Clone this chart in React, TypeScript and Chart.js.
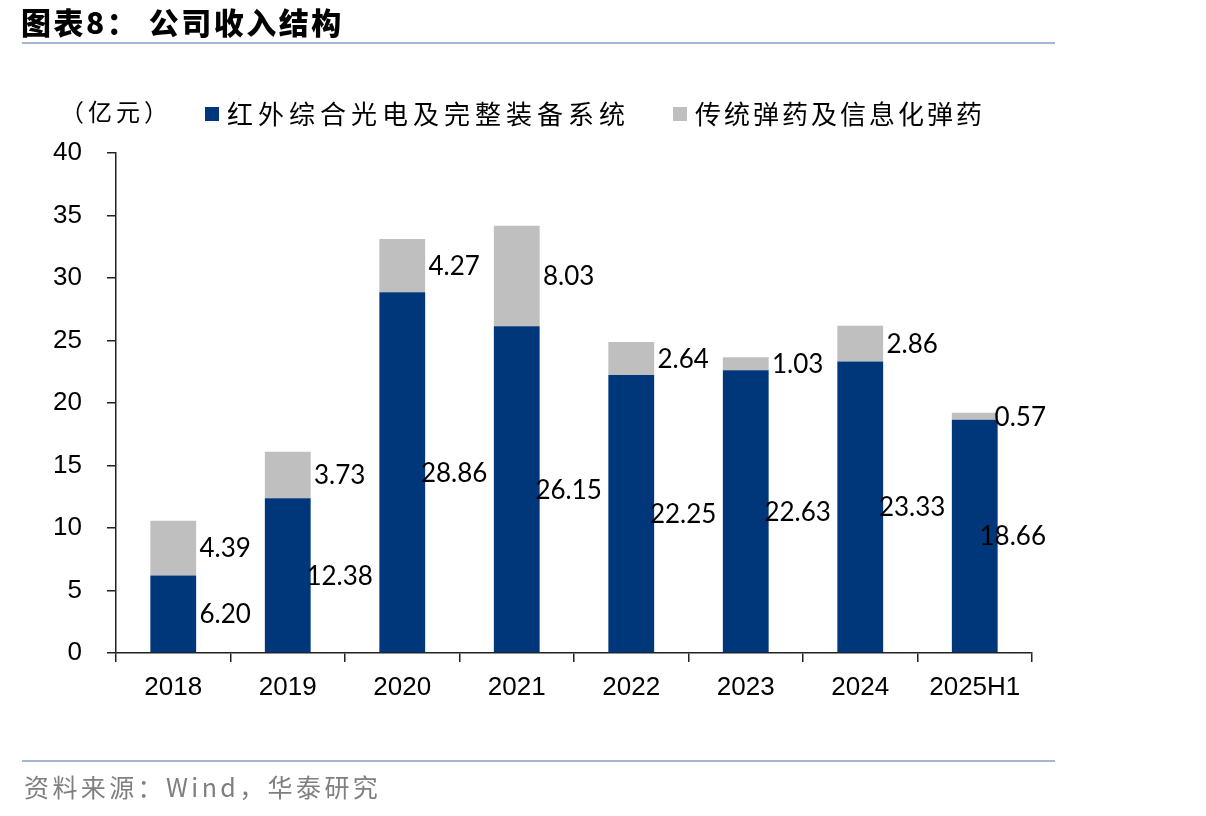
import React, { useEffect, useRef } from "react";
import { Chart, registerables } from "chart.js";

Chart.register(...registerables);

const categories = ["2018", "2019", "2020", "2021", "2022", "2023", "2024", "2025H1"];
const opticalSystems = [6.2, 12.38, 28.86, 26.15, 22.25, 22.63, 23.33, 18.66];
const ammunition = [4.39, 3.73, 4.27, 8.03, 2.64, 1.03, 2.86, 0.57];
const yTicks = [0, 5, 10, 15, 20, 25, 30, 35, 40];

const seriesNames = ["红外综合光电及完整装备系统", "传统弹药及信息化弹药"];
const seriesColors = ["#00377A", "#BFBFBF"];

const W = 1206;
const H = 816;
const AREA = { left: 116, right: 1032, top: 153, bottom: 653 };

const valueLabels = {
  id: "valueLabels",
  afterDatasetsDraw(chart: any) {
    const ctx = chart.ctx;
    ctx.save();
    ctx.font = "26px Lato, 'Liberation Sans', sans-serif";
    ctx.fillStyle = "#000";
    ctx.textAlign = "center";
    ctx.textBaseline = "middle";
    chart.data.datasets.forEach((ds: any, di: number) => {
      const meta = chart.getDatasetMeta(di);
      meta.data.forEach((bar: any, i: number) => {
        const text = Number(ds.data[i]).toFixed(2);
        const tw = ctx.measureText(text).width;
        const right = bar.x + bar.width / 2;
        const cx = Math.min(right + 29, 1046 - tw / 2);
        const cy = (bar.y + bar.base) / 2 + 1;
        ctx.fillText(text, cx, cy);
      });
    });
    ctx.restore();
  },
};

function RevenueChart() {
  const ref = useRef<HTMLCanvasElement | null>(null);
  useEffect(() => {
    if (!ref.current) return;
    const chart = new Chart(ref.current, {
      type: "bar",
      data: {
        labels: categories,
        datasets: [
          {
            label: seriesNames[0],
            data: opticalSystems,
            backgroundColor: seriesColors[0],
            categoryPercentage: 1,
            barPercentage: 0.4,
          },
          {
            label: seriesNames[1],
            data: ammunition,
            backgroundColor: seriesColors[1],
            categoryPercentage: 1,
            barPercentage: 0.4,
          },
        ],
      },
      options: {
        animation: false,
        responsive: false,
        events: [],
        layout: {
          padding: { left: 0, top: AREA.top, right: W - AREA.right, bottom: 0 },
        },
        plugins: {
          legend: { display: false },
          title: { display: false },
          tooltip: { enabled: false },
        },
        scales: {
          x: {
            stacked: true,
            offset: true,
            grid: {
              offset: true,
              drawOnChartArea: false,
              drawTicks: true,
              tickLength: 9,
              color: "#222",
              lineWidth: 1.5,
            },
            border: { display: true, color: "#222", width: 1.5 },
            ticks: {
              color: "#000",
              font: { family: "'Liberation Sans', Arial, sans-serif", size: 26 },
              padding: 10,
              maxRotation: 0,
              autoSkip: false,
            },
            afterFit(scale: any) {
              scale.height = H - AREA.bottom;
            },
          },
          y: {
            stacked: true,
            min: 0,
            max: 40,
            afterBuildTicks(scale: any) {
              scale.ticks = yTicks.map((v) => ({ value: v }));
            },
            grid: {
              drawOnChartArea: false,
              drawTicks: true,
              tickLength: 9,
              color: "#222",
              lineWidth: 1.5,
            },
            border: { display: true, color: "#222", width: 1.5 },
            ticks: {
              color: "#000",
              font: { family: "'Liberation Sans', Arial, sans-serif", size: 26 },
              padding: 25,
            },
            afterFit(scale: any) {
              scale.width = AREA.left;
            },
          },
        },
      },
      plugins: [valueLabels],
    });
    return () => chart.destroy();
  }, []);
  return <canvas ref={ref} width={W} height={H} style={{ position: "absolute", left: 0, top: 0 }} />;
}

const cjk = "'Noto Sans CJK SC', 'Noto Sans', sans-serif";

export default function App() {
  return (
    <div
      style={{
        position: "fixed",
        left: 0,
        top: 0,
        width: W,
        height: H,
        background: "#fff",
        overflow: "hidden",
      }}
    >
      <RevenueChart />
      <div
        style={{
          position: "absolute",
          left: 21,
          top: 1,
          fontFamily: cjk,
          fontWeight: 900,
          fontSize: 30,
          letterSpacing: 2.5,
          lineHeight: "40px",
          color: "#000",
          whiteSpace: "pre",
        }}
      >
        图表8： 公司收入结构
      </div>
      <div style={{ position: "absolute", left: 22, top: 42, width: 1033, height: 2, background: "#A3B7D2" }} />
      <div
        style={{
          position: "absolute",
          left: 60,
          top: 95,
          fontFamily: cjk,
          fontSize: 24,
          letterSpacing: 4,
          lineHeight: "32px",
          color: "#000",
        }}
      >
        （亿元）
      </div>
      <div style={{ position: "absolute", left: 205, top: 107, width: 14, height: 14, background: seriesColors[0] }} />
      <div
        style={{
          position: "absolute",
          left: 227,
          top: 96,
          fontFamily: cjk,
          fontSize: 26,
          letterSpacing: 5,
          lineHeight: "34px",
          color: "#000",
          whiteSpace: "pre",
        }}
      >
        {seriesNames[0]}
      </div>
      <div style={{ position: "absolute", left: 673, top: 107, width: 14, height: 14, background: seriesColors[1] }} />
      <div
        style={{
          position: "absolute",
          left: 695,
          top: 96,
          fontFamily: cjk,
          fontSize: 26,
          letterSpacing: 3,
          lineHeight: "34px",
          color: "#000",
          whiteSpace: "pre",
        }}
      >
        {seriesNames[1]}
      </div>
      <div style={{ position: "absolute", left: 22, top: 760, width: 1033, height: 2, background: "#A3B7D2" }} />
      <div
        style={{
          position: "absolute",
          left: 24,
          top: 769,
          fontFamily: cjk,
          fontSize: 25,
          letterSpacing: 3.4,
          lineHeight: "34px",
          color: "#7F7F7F",
          whiteSpace: "pre",
        }}
      >
        资料来源：Wind，华泰研究
      </div>
    </div>
  );
}
